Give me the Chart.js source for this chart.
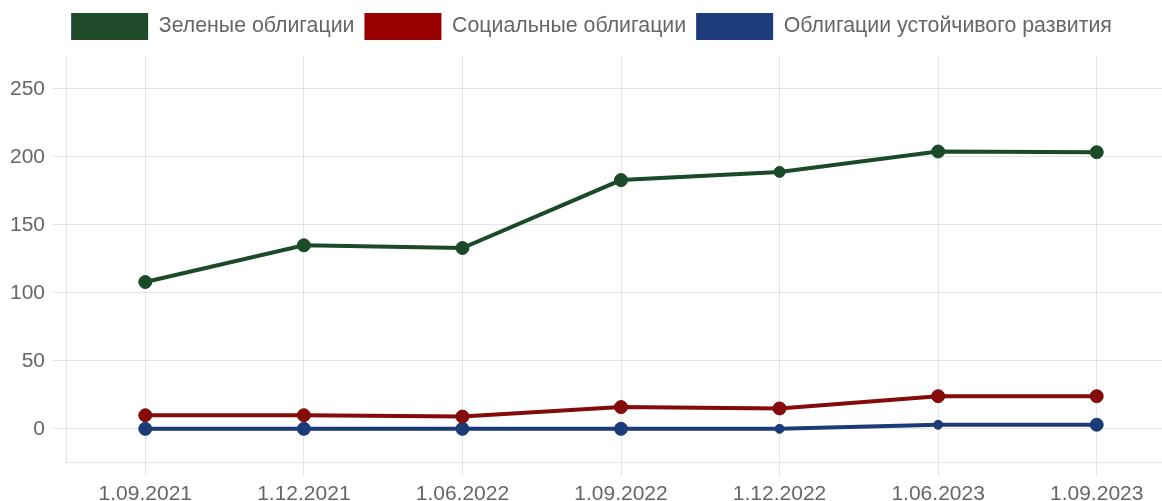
<!DOCTYPE html>
<html>
<head>
<meta charset="utf-8">
<script src="https://cdn.jsdelivr.net/npm/chart.js@4.4.1/dist/chart.umd.min.js"></script>
<style>
  html, body { margin: 0; padding: 0; background: #fff; overflow: hidden; width: 1162px; height: 501px; }
  #wrap { position: absolute; left: 0; top: 0; width: 1186px; height: 515px; }
</style>
</head>
<body>
<div id="wrap"><canvas id="c" width="1186" height="515"></canvas></div>
<script>
const categories = ['1.09.2021', '1.12.2021', '1.06.2022', '1.09.2022', '1.12.2022', '1.06.2023', '1.09.2023'];
const greenBonds = [108, 135, 133, 183, 189, 204, 203.5];
const socialBonds = [10, 10, 9, 16, 15, 24, 24];
const sustainableBonds = [0, 0, 0, 0, 0, 3, 3];
const seriesNames = ['Зеленые облигации', 'Социальные облигации', 'Облигации устойчивого развития'];
const yTicks = [0, 50, 100, 150, 200, 250];
const yMin = -25, yMax = 275;

const FONT = '"Liberation Sans", Arial, sans-serif';
Chart.defaults.font.family = FONT;
Chart.defaults.font.size = 21;
Chart.defaults.color = '#666';

function ds(label, data, line, legendColor, radii) {
  return {
    label, data,
    borderColor: line,
    backgroundColor: legendColor,
    pointBackgroundColor: line,
    pointBorderColor: line,
    pointBorderWidth: 1,
    pointRadius: radii,
    borderWidth: 4,
    tension: 0,
    fill: false
  };
}

const legendGap = {
  id: 'legendGap',
  beforeInit(chart) {
    const orig = chart.legend.fit;
    chart.legend.fit = function () { orig.call(this); this.height += 5; };
  }
};

new Chart(document.getElementById('c'), {
  type: 'line',
  plugins: [legendGap],
  data: {
    labels: categories,
    datasets: [
      ds(seriesNames[0], greenBonds, '#1b4a28', '#1e4a2a', [6.5, 6.5, 6.5, 6.5, 5.5, 6.5, 6.5]),
      ds(seriesNames[1], socialBonds, '#850a0a', '#990000', [6.5, 6.5, 6.5, 6.5, 6.5, 6.5, 6.5]),
      ds(seriesNames[2], sustainableBonds, '#1b3b78', '#1d3c7a', [6.5, 6.5, 6.5, 6.5, 4.5, 4.5, 6.5])
    ]
  },
  options: {
    responsive: false,
    animation: false,
    layout: { padding: { left: 7, right: 10, top: 3, bottom: 3 } },
    plugins: {
      legend: {
        display: true,
        position: 'top',
        labels: {
          boxWidth: 77,
          boxHeight: 27,
          padding: 10,
          color: '#666',
          font: { size: 21.3, family: FONT },
          generateLabels(chart) {
            return chart.data.datasets.map((d, i) => ({
              text: d.label,
              fillStyle: d.backgroundColor,
              strokeStyle: d.backgroundColor,
              lineWidth: 0,
              hidden: false,
              datasetIndex: i,
              fontColor: '#666'
            }));
          }
        }
      },
      tooltip: { enabled: false }
    },
    scales: {
      x: {
        offset: true,
        grid: { color: 'rgba(0,0,0,0.1)', tickLength: 14, offset: false },
        border: { color: 'rgba(0,0,0,0.1)' },
        ticks: { padding: 5, color: '#666', font: { size: 21 }, maxRotation: 0, autoSkip: false }
      },
      y: {
        min: yMin,
        max: yMax,
        afterBuildTicks(scale) { scale.ticks = yTicks.map(v => ({ value: v })); },
        afterFit(scale) { scale.width = 59; },
        grid: { color: 'rgba(0,0,0,0.1)', tickLength: 14 },
        border: { color: 'rgba(0,0,0,0.1)' },
        ticks: { padding: 7, color: '#666', font: { size: 21 } }
      }
    }
  }
});
</script>
</body>
</html>
